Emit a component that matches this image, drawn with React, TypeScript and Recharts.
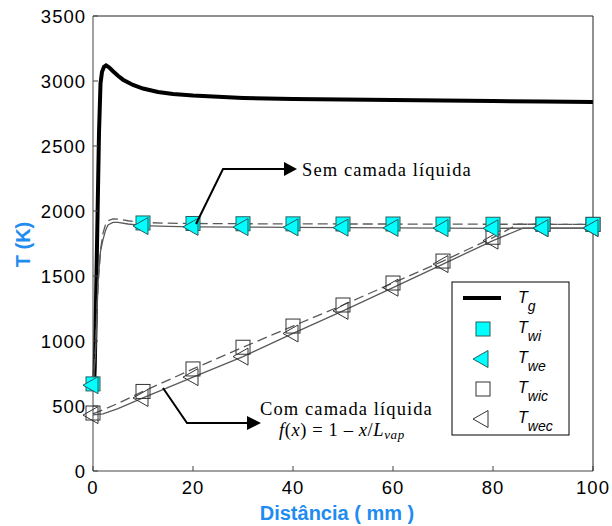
import { ComposedChart, Line, Scatter, XAxis, YAxis } from 'recharts'

const X_TICKS = [0, 20, 40, 60, 80, 100]
const Y_TICKS = [0, 500, 1000, 1500, 2000, 2500, 3000, 3500]

// gas temperature
const TG_X = [0.2, 0.35, 0.6, 0.9, 1.2, 1.5, 1.8, 2.2, 2.6, 3.2, 4, 5, 6, 8, 10, 13, 16, 20, 25, 30, 40, 50, 60, 70, 80, 90, 100]
const TG_Y = [640, 800, 1300, 1950, 2600, 2980, 3070, 3110, 3120, 3105, 3075, 3040, 3010, 2970, 2942, 2915, 2900, 2888, 2878, 2870, 2862, 2857, 2853, 2850, 2846, 2842, 2838]

// sem camada líquida (wall, inner / outer)
const TWI_X = [0, 0.5, 1, 1.5, 2, 2.5, 3, 4, 5, 7, 10, 15, 20, 30, 40, 50, 60, 70, 80, 90, 100]
const TWI_Y = [670, 950, 1420, 1700, 1830, 1895, 1925, 1940, 1938, 1925, 1912, 1906, 1904, 1902, 1901, 1900, 1900, 1899, 1898, 1898, 1897]
const TWE_Y = [660, 900, 1460, 1690, 1780, 1850, 1893, 1913, 1912, 1900, 1887, 1881, 1878, 1876, 1874, 1872, 1870, 1868, 1867, 1868, 1869]

// com camada líquida
const TWIC_X = [0, 2, 5, 10, 20, 30, 40, 50, 60, 70, 80, 85, 90, 100]
const TWIC_Y = [440, 470, 520, 612, 785, 952, 1115, 1277, 1446, 1615, 1795, 1898, 1898, 1897]
const TWEC_X = [0, 2, 5, 10, 20, 30, 40, 50, 60, 70, 80, 86, 90, 100]
const TWEC_Y = [432, 440, 480, 562, 722, 880, 1058, 1232, 1410, 1592, 1772, 1868, 1868, 1869]

// marker positions
const MARK_X = [0, 10, 20, 30, 40, 50, 60, 70, 80, 90, 100]
const MARK_TWI = [670, 1908, 1904, 1902, 1901, 1900, 1900, 1899, 1898, 1898, 1897]
const MARK_TWE = [660, 1884, 1878, 1876, 1874, 1872, 1870, 1868, 1867, 1868, 1869]
const MARK_TWIC = [446, 612, 785, 952, 1115, 1277, 1446, 1615, 1798, 1898, 1897]
const MARK_TWEC = [430, 562, 722, 880, 1058, 1232, 1410, 1592, 1772, 1868, 1869]

const pts = (xs: number[], ys: number[]) => xs.map((x, i) => ({ x, y: ys[i] }))

const tg = pts(TG_X, TG_Y)
const twi = pts(TWI_X, TWI_Y)
const twe = pts(TWI_X, TWE_Y)
const twic = pts(TWIC_X, TWIC_Y)
const twec = pts(TWEC_X, TWEC_Y)

const CYAN = '#00ffff'
const CYAN_EDGE = '#2a5c5c'
const THIN = '#5a5a5a'
const BLUE = '#1f8cf0'
const SANS = '"Liberation Sans", Arial, sans-serif'
const SERIF = '"Liberation Serif", "Times New Roman", serif'

function Square({ cx, cy, fill }: { cx: number; cy: number; fill: string }) {
  return (
    <rect
      x={cx - 7}
      y={cy - 7}
      width={14}
      height={14}
      fill={fill}
      stroke={fill === 'none' ? '#333' : CYAN_EDGE}
      strokeWidth={1}
    />
  )
}

function LeftTri({ cx, cy, fill }: { cx: number; cy: number; fill: string }) {
  return (
    <path
      d={`M${cx - 10},${cy} L${cx + 5},${cy - 8.5} L${cx + 5},${cy + 8.5} Z`}
      fill={fill}
      stroke={fill === 'none' ? '#333' : CYAN_EDGE}
      strokeWidth={1}
    />
  )
}

function YTitle({ viewBox }: any) {
  const cx = viewBox.x + 22.5
  const cy = viewBox.y + viewBox.height / 2 + 1
  return (
    <text
      x={cx}
      y={cy}
      transform={`rotate(-90 ${cx} ${cy})`}
      textAnchor="middle"
      dominantBaseline="central"
      fill={BLUE}
      fontFamily={SANS}
      fontWeight="bold"
      fontSize={20}
    >
      T (K)
    </text>
  )
}

function XTitle({ viewBox }: any) {
  return (
    <text
      x={viewBox.x + viewBox.width / 2 - 6}
      y={520}
      textAnchor="middle"
      fill={BLUE}
      fontFamily={SANS}
      fontWeight="bold"
      fontSize={20}
    >
      Distância ( mm )
    </text>
  )
}

function LegendLabel({ x, y, sub }: { x: number; y: number; sub: string }) {
  return (
    <text x={x} y={y + 5} fontFamily={SANS} fontStyle="italic" fill="#000">
      <tspan fontSize={16}>T</tspan>
      <tspan fontSize={14} dy={8}>
        {sub}
      </tspan>
    </text>
  )
}

function Overlay() {
  return (
    <svg
      width={612}
      height={526}
      style={{ position: 'absolute', left: 0, top: 0, pointerEvents: 'none' }}
    >
      {/* Sem camada arrow */}
      <polyline points="196,224 223,169 285,169" fill="none" stroke="#000" strokeWidth={2} />
      <path d="M284,162 L297,169 L284,176 Z" fill="#000" />
      <text x={302} y={176} fontFamily={SERIF} fontSize={18.5} letterSpacing={1.1}>
        Sem camada líquida
      </text>

      {/* Com camada arrow */}
      <polyline points="163,388 187,423 248,423" fill="none" stroke="#000" strokeWidth={2} />
      <path d="M247,416 L261,423 L247,430 Z" fill="#000" />
      <text x={260} y={415} fontFamily={SERIF} fontSize={18.5} letterSpacing={1.1}>
        Com camada líquida
      </text>
      <text x={279} y={436} fontFamily={SERIF} fontSize={18.5} letterSpacing={0.6}>
        <tspan fontStyle="italic">f</tspan>(<tspan fontStyle="italic">x</tspan>) = 1 – <tspan fontStyle="italic">x</tspan>/<tspan fontStyle="italic">L</tspan>
        <tspan fontStyle="italic" fontSize={13} dy={3}>
          vap
        </tspan>
      </text>

      {/* legend */}
      <rect x={452} y={282} width={117} height={153} fill="#fff" stroke="#000" strokeWidth={1} />
      <line x1={463} y1={298} x2={501} y2={298} stroke="#000" strokeWidth={4} />
      <LegendLabel x={518} y={298} sub="g" />
      <Square cx={483} cy={329} fill={CYAN} />
      <LegendLabel x={518} y={328} sub="wi" />
      <LeftTri cx={483} cy={359} fill={CYAN} />
      <LegendLabel x={518} y={358} sub="we" />
      <Square cx={483} cy={389} fill="none" />
      <LegendLabel x={518} y={388} sub="wic" />
      <LeftTri cx={483} cy={419} fill="none" />
      <LegendLabel x={518} y={418} sub="wec" />
    </svg>
  )
}

export default function App() {
  const tickStyle = { fontSize: 18.5, fill: '#000', fontFamily: SANS, letterSpacing: 1 }
  return (
    <div style={{ position: 'absolute', left: 0, top: 0, width: 612, height: 526, background: '#fff' }}>
      <ComposedChart width={612} height={526} margin={{ top: 16, right: 19, left: 0, bottom: 0 }}>
        <XAxis
          type="number"
          dataKey="x"
          domain={[0, 100]}
          ticks={X_TICKS}
          height={55}
          tickSize={-5}
          tickMargin={15}
          tick={tickStyle}
          stroke="#444"
          label={<XTitle />}
        />
        <XAxis
          xAxisId="top"
          orientation="top"
          type="number"
          domain={[0, 100]}
          ticks={X_TICKS}
          mirror
          tick={false}
          tickSize={5}
          stroke="#222"
        />
        <YAxis
          type="number"
          dataKey="y"
          domain={[0, 3500]}
          ticks={Y_TICKS}
          width={93}
          tickSize={-5}
          tickMargin={12}
          tick={tickStyle}
          stroke="#444"
          label={<YTitle />}
        />
        <YAxis
          yAxisId="right"
          orientation="right"
          type="number"
          domain={[0, 3500]}
          ticks={Y_TICKS}
          mirror
          tick={false}
          tickSize={5}
          stroke="#222"
        />
        <Line data={tg} dataKey="y" stroke="#000" strokeWidth={4} dot={false} isAnimationActive={false} type="linear" />
        <Line data={twic} dataKey="y" stroke={THIN} strokeWidth={1.3} strokeDasharray="10 5" dot={false} isAnimationActive={false} />
        <Line data={twec} dataKey="y" stroke={THIN} strokeWidth={1.3} dot={false} isAnimationActive={false} />
        <Line data={twi} dataKey="y" stroke={THIN} strokeWidth={1.3} strokeDasharray="10 5" dot={false} isAnimationActive={false} />
        <Line data={twe} dataKey="y" stroke={THIN} strokeWidth={1.3} dot={false} isAnimationActive={false} />
        <Scatter
          data={pts(MARK_X, MARK_TWIC)}
          dataKey="y"
          isAnimationActive={false}
          shape={(p: any) => <Square cx={p.cx} cy={p.cy} fill="none" />}
        />
        <Scatter
          data={pts(MARK_X, MARK_TWEC)}
          dataKey="y"
          isAnimationActive={false}
          shape={(p: any) => <LeftTri cx={p.cx} cy={p.cy} fill="none" />}
        />
        <Scatter
          data={pts(MARK_X, MARK_TWI)}
          dataKey="y"
          isAnimationActive={false}
          shape={(p: any) => <Square cx={p.cx} cy={p.cy} fill={CYAN} />}
        />
        <Scatter
          data={pts(MARK_X, MARK_TWE)}
          dataKey="y"
          isAnimationActive={false}
          shape={(p: any) => <LeftTri cx={p.cx} cy={p.cy} fill={CYAN} />}
        />
      </ComposedChart>
      <Overlay />
    </div>
  )
}
